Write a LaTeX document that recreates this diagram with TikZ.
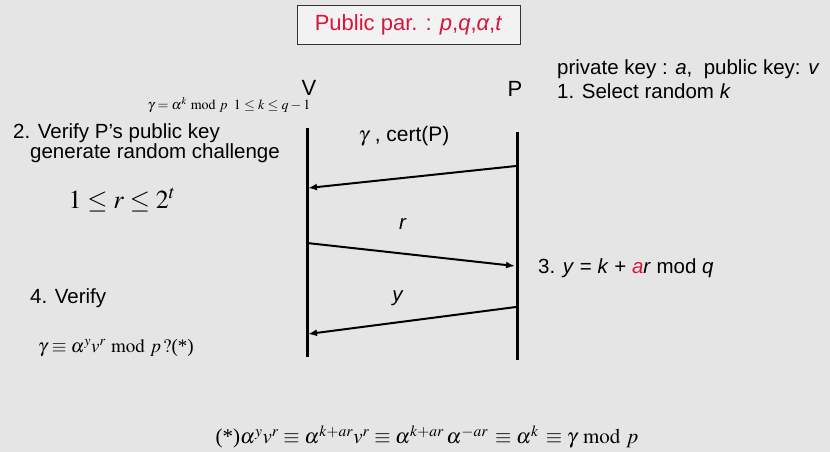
\documentclass[tikz,border=0pt]{standalone}
\usepackage{mathptmx}
\usepackage{fontspec}
\setmainfont{Liberation Sans}
\newfontfamily\timesf{Liberation Serif}
\usepackage{xcolor}
\usetikzlibrary{arrows.meta,positioning}

\definecolor{bggray}{RGB}{229,229,229}
\definecolor{pubred}{RGB}{214,22,58}

\begin{document}
\begin{tikzpicture}[
    x=1pt, y=-1pt,
    lbl/.style={inner sep=0pt, font=\fontsize{20.5}{24}\selectfont},
    eq/.style={inner sep=0pt},
    life/.style={line width=3pt},
    msg/.style={-{Latex[length=9pt,width=7pt]}, line width=2pt}
]
% background
\fill[bggray] (0,0) rectangle (830,452);
\useasboundingbox (0,0) rectangle (830,452);

% public parameters
\node[draw=black!80, fill=black!5, line width=0.8pt, minimum width=223pt, minimum height=39pt,
      text=pubred, font=\fontsize{22}{26}\selectfont] (pub) at (408.5,24.5)
      {Public par. : \textit{p},\textit{q},\textit{α},\textit{t}};

% parties
\node[lbl, font=\fontsize{22}{26}\selectfont] (vname) at (309,88) {V};
\node[lbl, font=\fontsize{22}{26}\selectfont] (pname) at (515,89) {P};
\node[eq, font=\fontsize{14}{16}\selectfont] (gdef) at (229,105)
      {$\gamma=\alpha^{k}\bmod p\;\;1\le k\le q-1$};

% prover side
\node[lbl, anchor=west] (keys) at (557,69) {private key : \textit{a},\ \ public key: \textit{v}};
\node[lbl, anchor=west] (step1) at (557,91) {1. Select random \textit{k}};
\node[lbl, anchor=west] (step3) at (538,268)
      {3. \textit{y} = \textit{k} + \textcolor{pubred}{\textit{a}}\textit{r} mod \textit{q}};

% verifier side
\node[lbl, anchor=west] (step2) at (13,133) {2. Verify P’s public key};
\node[lbl, anchor=west] (chal) at (30,153) {generate random challenge};
\node[eq, font=\fontsize{26}{30}\selectfont] (rrange) at (122,200) {$1\le r\le 2^{t}$};
\node[lbl, anchor=west] (step4) at (30,298) {4. Verify};
\node[eq, anchor=west, font=\fontsize{19}{22}\selectfont] (check) at (38,348)
      {$\gamma\equiv\alpha^{y}v^{r}\bmod p\,?\mbox{\timesf(*)}$};

% lifelines
\coordinate (vtop) at (307,128);
\coordinate (vbot) at (307,357);
\coordinate (ptop) at (517,132);
\coordinate (pbot) at (517,360);
\draw[life] (vtop) -- (vbot);
\draw[life] (ptop) -- (pbot);

% messages
\coordinate (m1s) at (516,166);
\coordinate (m1e) at (308,188);
\coordinate (m2s) at (307,243);
\coordinate (m2e) at (515,266);
\coordinate (m3s) at (516,307);
\coordinate (m3e) at (308,334);
\draw[msg] (m1s) -- (m1e);
\draw[msg] (m2s) -- (m2e);
\draw[msg] (m3s) -- (m3e);

\node[lbl] (lgamma) at (404,136) {\fontsize{21}{24}\selectfont$\gamma$\ , cert(P)};
\node[lbl] (lr) at (403,224) {\textit{r}};
\node[lbl] (ly) at (398,298) {\textit{y}};

% derivation
\node[eq, font=\fontsize{21}{25}\selectfont] (proof) at (427,437)
      {$\mbox{\timesf(*)}\alpha^{y}v^{r}\equiv\alpha^{k+ar}v^{r}\equiv\alpha^{k+ar}\,\alpha^{-ar}\,\equiv\alpha^{k}\,\equiv\gamma\bmod p$};
\end{tikzpicture}
\end{document}
